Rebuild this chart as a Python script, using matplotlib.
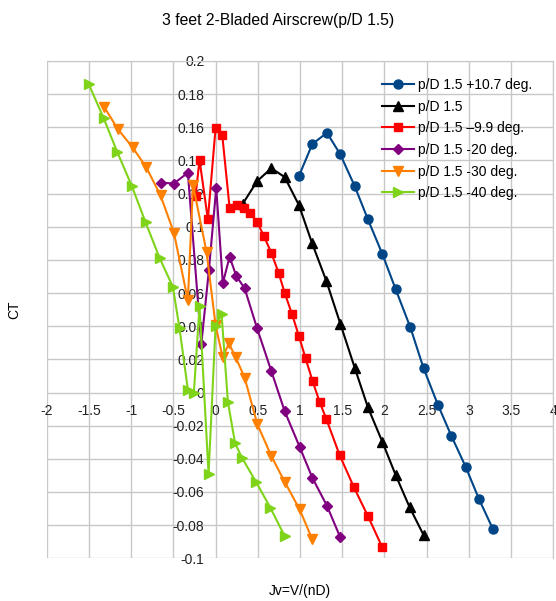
import matplotlib
matplotlib.use("Agg")
import matplotlib.pyplot as plt
from matplotlib.ticker import FixedLocator, FuncFormatter
import numpy as np

plt.rcParams['font.family'] = ['Liberation Sans', 'DejaVu Sans']
plt.rcParams['axes.unicode_minus'] = False

title = "3 feet 2-Bladed Airscrew(p/D 1.5)"
x_label = "Jv=V/(nD)"
y_label = "CT"

labels = ["p/D 1.5 +10.7 deg.", "p/D 1.5", "p/D 1.5 \u20139.9 deg.",
          "p/D 1.5 -20 deg.", "p/D 1.5 -30 deg.", "p/D 1.5 -40 deg."]

j_p107 = [0.987, 1.146, 1.319, 1.477, 1.647, 1.804, 1.975, 2.133, 2.307, 2.464,
          2.634, 2.793, 2.962, 3.120, 3.286]
ct_p107 = [0.1306, 0.1499, 0.1567, 0.1437, 0.1246, 0.1045, 0.0836, 0.0623, 0.0393,
           0.0146, -0.0075, -0.0262, -0.0448, -0.0643, -0.0825]

j_base = [0.320, 0.492, 0.660, 0.818, 0.987, 1.141, 1.312, 1.477, 1.647, 1.804,
          1.975, 2.133, 2.299, 2.464]
ct_base = [0.1137, 0.1275, 0.1353, 0.1300, 0.1131, 0.0904, 0.0673, 0.0416, 0.0151,
           -0.0089, -0.0297, -0.0498, -0.0693, -0.0860]

j_m99 = [-0.237, -0.190, -0.091, 0.0, 0.079, 0.166, 0.249, 0.332, 0.411, 0.492,
         0.572, 0.660, 0.746, 0.818, 0.906, 0.987, 1.066, 1.149, 1.232, 1.312,
         1.469, 1.639, 1.804, 1.975]
ct_m99 = [0.1186, 0.1403, 0.1045, 0.1594, 0.1554, 0.1115, 0.1131, 0.1111, 0.1083,
          0.1029, 0.0944, 0.0843, 0.0723, 0.0602, 0.0472, 0.0341, 0.0206, 0.0069,
          -0.0056, -0.0160, -0.0377, -0.0572, -0.0745, -0.0934]

j_m20 = [-0.652, -0.494, -0.328, -0.169, -0.079, 0.008, 0.086, 0.166, 0.245, 0.344,
         0.492, 0.660, 0.818, 0.995, 1.146, 1.319, 1.477]
ct_m20 = [0.1266, 0.1261, 0.1326, 0.0290, 0.0739, 0.1234, 0.0659, 0.0819, 0.0703,
          0.0629, 0.0387, 0.0130, -0.0112, -0.0327, -0.0514, -0.0683, -0.0874]

j_m30 = [-1.321, -1.158, -0.983, -0.821, -0.652, -0.494, -0.328, -0.267, -0.107,
         0.0, 0.083, 0.158, 0.237, 0.344, 0.494, 0.660, 0.818, 0.995, 1.146]
ct_m30 = [0.1725, 0.1589, 0.1479, 0.1359, 0.1189, 0.0965, 0.0558, 0.1252, 0.0848,
          0.0407, 0.0214, 0.0296, 0.0214, 0.0090, -0.0190, -0.0383, -0.0538,
          -0.0705, -0.0886]

j_m40 = [-1.501, -1.327, -1.167, -0.992, -0.829, -0.664, -0.506, -0.427, -0.328,
         -0.257, -0.190, -0.083, 0.0, 0.071, 0.146, 0.231, 0.314, 0.478, 0.648, 0.818]
ct_m40 = [0.1859, 0.1657, 0.1454, 0.1246, 0.1027, 0.0813, 0.0638, 0.0387, 0.0018,
          0.0, 0.052, -0.0492, 0.0401, 0.0474, -0.0056, -0.0306, -0.0395, -0.0538,
          -0.0694, -0.0866]

x_ticks = [-2, -1.5, -1, -0.5, 0, 0.5, 1, 1.5, 2, 2.5, 3, 3.5, 4]
y_ticks = [-0.1, -0.08, -0.06, -0.04, -0.02, 0, 0.02, 0.04, 0.06, 0.08, 0.1,
           0.12, 0.14, 0.16, 0.18, 0.2]

series = [
    (j_p107, ct_p107, '#004586', 'o', 6.5),
    (j_base, ct_base, '#000000', '^', 7.5),
    (j_m99, ct_m99, '#ff0000', 's', 6.0),
    (j_m20, ct_m20, '#800080', 'D', 5.5),
    (j_m30, ct_m30, '#ff8000', 'v', 7.5),
    (j_m40, ct_m40, '#7fd41a', '>', 7.5),
]

W, H = 556, 601
fig = plt.figure(figsize=(W / 100, H / 100), dpi=100)
L, R, T, B = 46.7, 553.3, 61.0, 558.3
ax = fig.add_axes([L / W, 1 - B / H, (R - L) / W, (B - T) / H])

for (xs, ys, c, m, ms), lab in zip(series, labels):
    ax.plot(xs, ys, color=c, marker=m, markersize=ms, linewidth=1.5,
            markeredgecolor=c, label=lab)

ax.set_xlim(-2, 4)
ax.set_ylim(-0.1, 0.2)
ax.xaxis.set_major_locator(FixedLocator(x_ticks))
ax.yaxis.set_major_locator(FixedLocator(y_ticks))
fmt = FuncFormatter(lambda v, p: ("%g" % round(v, 4)))
ax.xaxis.set_major_formatter(fmt)
ax.yaxis.set_major_formatter(fmt)
ax.grid(True, color='#c8c8c8', linewidth=1.0)
ax.set_axisbelow(True)

for s in ['top', 'right']:
    ax.spines[s].set_color('#c8c8c8')
ax.spines['left'].set_position(('data', 0))
ax.spines['bottom'].set_position(('data', 0))
ax.spines['left'].set_visible(False)
ax.spines['bottom'].set_visible(False)
ax.tick_params(axis='both', length=0, labelsize=10, colors='#222222')
ax.tick_params(axis='x', pad=8)
ax.tick_params(axis='y', pad=8)

ax.set_xlabel(x_label, fontsize=10)
ax.set_ylabel(y_label, fontsize=10)
ax.xaxis.set_label_coords(0.5, -(584 - B) / (B - T))
ax.yaxis.set_label_coords((21 - L) / (R - L), 0.5)

fig.text(0.5, 1 - 20 / H, title, ha='center', va='center', fontsize=11.3)

ax.legend(loc='upper left', bbox_to_anchor=(382 / W, 1 - 78 / H),
          bbox_transform=fig.transFigure, frameon=False, fontsize=10,
          handlelength=2.3, handletextpad=0.3, borderpad=0, borderaxespad=0,
          labelspacing=0.55, numpoints=1)

fig.savefig("out.png", dpi=100)
